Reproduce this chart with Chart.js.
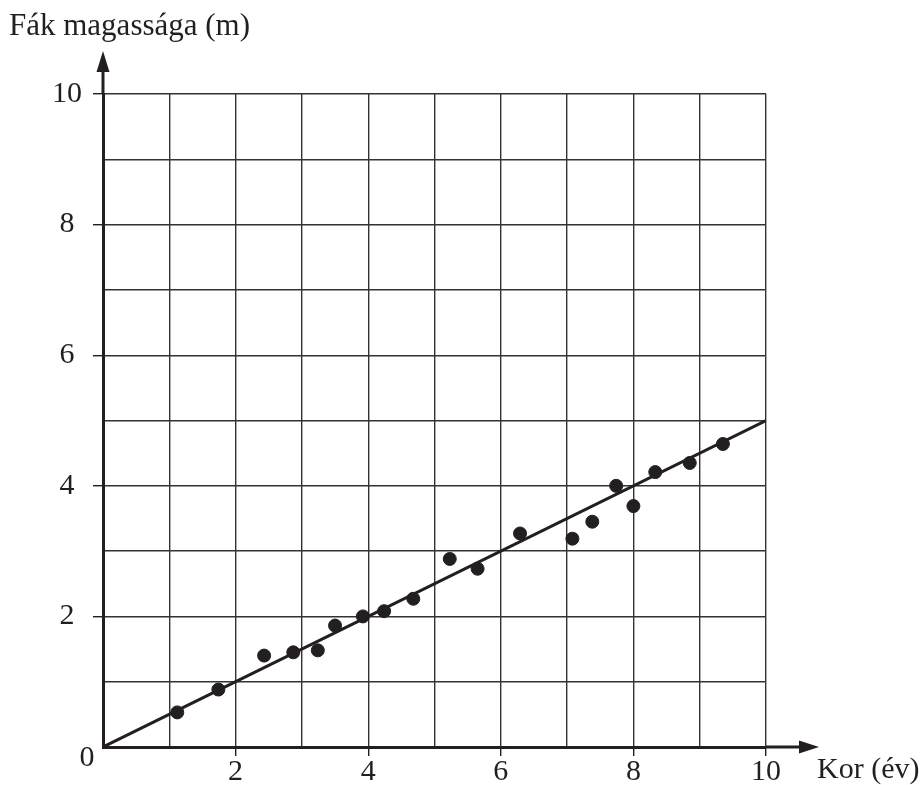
<!DOCTYPE html>
<html>
<head>
<meta charset="utf-8">
<title>Fák magassága</title>
<script src="https://cdn.jsdelivr.net/npm/chart.js@4/dist/chart.umd.min.js"></script>
<style>
  html, body { margin: 0; padding: 0; background: #fff; }
  canvas { display: block; }
</style>
</head>
<body>
<canvas id="chart" width="922" height="785"></canvas>
<script>
// measured points: age (years) vs tree height (m)
const ages    = [1.12, 1.74, 2.43, 2.87, 3.24, 3.50, 3.92, 4.24, 4.68, 5.23, 5.65, 6.29, 7.08, 7.38, 7.74, 8.00, 8.33, 8.85, 9.35];
const heights = [0.53, 0.88, 1.40, 1.45, 1.48, 1.86, 2.00, 2.08, 2.27, 2.88, 2.73, 3.27, 3.19, 3.45, 4.00, 3.69, 4.21, 4.35, 4.64];

// fitted line end points
const fitX = [0, 10];
const fitY = [0, 5];

const xTitle = "Kor (év)";
const yTitle = "Fák magassága (m)";

const ink = "#231f20";
const font = "'Liberation Serif', 'DejaVu Serif', serif";

const evenTick = ctx => (ctx.tick && ctx.tick.value % 2 === 0 && ctx.tick.value !== 0) ? ink : "rgba(0,0,0,0)";
const evenLabel = v => (v % 2 === 0 && v !== 0) ? String(v) : "";

const extras = {
  id: "extras",
  afterDraw(chart) {
    const c = chart.ctx;
    const x = chart.scales.x, y = chart.scales.y;
    const x0 = x.getPixelForValue(0), y0 = y.getPixelForValue(0);
    const xEnd = x.getPixelForValue(10), yEnd = y.getPixelForValue(10);
    c.save();
    c.strokeStyle = ink;
    c.fillStyle = ink;
    c.lineWidth = 3;
    // axis extensions
    c.beginPath();
    c.moveTo(xEnd, y0); c.lineTo(802, y0);
    c.moveTo(x0, yEnd); c.lineTo(x0, 70);
    c.stroke();
    // arrow heads
    c.beginPath();
    c.moveTo(819, y0); c.lineTo(799, y0 - 6.5); c.lineTo(799, y0 + 6.5); c.closePath();
    c.fill();
    c.beginPath();
    c.moveTo(x0, 51); c.lineTo(x0 - 6.5, 72); c.lineTo(x0 + 6.5, 72); c.closePath();
    c.fill();
    // texts
    c.textBaseline = "alphabetic";
    c.textAlign = "left";
    c.font = "31px " + font;
    c.fillText(yTitle, 9, 35);
    c.font = "30px " + font;
    c.fillText(xTitle, 817, 778);
    c.textAlign = "center";
    c.fillText("0", 87, 766);
    c.restore();
  }
};

new Chart(document.getElementById("chart"), {
  type: "scatter",
  data: {
    datasets: [
      {
        type: "line",
        data: fitX.map((v, i) => ({ x: v, y: fitY[i] })),
        borderColor: ink,
        borderWidth: 3,
        pointRadius: 0,
        fill: false,
        order: 2
      },
      {
        data: ages.map((v, i) => ({ x: v, y: heights[i] })),
        backgroundColor: ink,
        borderColor: ink,
        pointRadius: 6.5,
        pointHoverRadius: 6.5,
        order: 1
      }
    ]
  },
  options: {
    responsive: false,
    animation: false,
    events: [],
    layout: { padding: { left: 0, top: 94, right: 156, bottom: 0 } },
    plugins: { legend: { display: false }, tooltip: { enabled: false } },
    scales: {
      x: {
        type: "linear",
        min: 0, max: 10,
        afterFit: s => { s.height = 38; },
        border: { display: true, color: ink, width: 3 },
        grid: { color: "#333", lineWidth: 1.4, drawTicks: true, tickLength: 9, tickColor: evenTick, tickWidth: 1.4 },
        ticks: { stepSize: 1, autoSkip: false, maxRotation: 0, padding: -2, color: ink,
                 font: { family: font, size: 30 }, callback: evenLabel }
      },
      y: {
        type: "linear",
        min: 0, max: 10,
        afterFit: s => { s.width = 103; },
        border: { display: true, color: ink, width: 3 },
        grid: { color: "#333", lineWidth: 1.4, drawTicks: true, tickLength: 10, tickColor: evenTick, tickWidth: 1.4 },
        ticks: { stepSize: 1, autoSkip: false, padding: 11, crossAlign: "center", color: ink,
                 font: { family: font, size: 30 }, callback: evenLabel }
      }
    }
  },
  plugins: [extras]
});
</script>
</body>
</html>
